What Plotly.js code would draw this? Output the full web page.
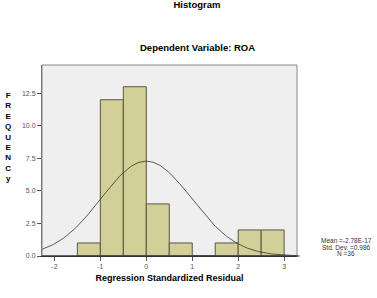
<!DOCTYPE html>
<html>
<head>
<meta charset="utf-8">
<script src="https://cdn.plot.ly/plotly-3.0.1.min.js"></script>
<style>
  html, body { margin: 0; padding: 0; background: #ffffff; }
  #chart { width: 377px; height: 298px; }
</style>
</head>
<body>
<div id="chart"></div>
<script>
// Residual histogram bins (bin width 0.5) and their counts
const binStarts = [-1.5, -1.0, -0.5, 0.0, 0.5, 1.0, 1.5, 2.0, 2.5];
const binWidth = 0.5;
const counts = [1, 12, 13, 4, 1, 0, 1, 2, 2];

// Summary statistics shown beside the plot
const meanLabel = '-2.78E-17';
const meanValue = -2.78e-17;
const stdDev = 0.986;
const nObs = 36;

const xTickVals = [-2, -1, 0, 1, 2, 3];
const yTickVals = [0, 2.5, 5, 7.5, 10, 12.5];
const yTickText = ['0.0', '2.5', '5.0', '7.5', '10.0', '12.5'];

const xRange = [-2.27, 3.28];
const yRange = [0, 14.67];

const binCenters = binStarts.map(s => s + binWidth / 2);

// Normal curve scaled to the histogram: N * width * density
const curveX = [];
const curveY = [];
for (let i = 0; i <= 200; i++) {
  const x = xRange[0] + (xRange[1] - xRange[0]) * i / 200;
  const z = (x - meanValue) / stdDev;
  curveX.push(x);
  curveY.push(nObs * binWidth * Math.exp(-0.5 * z * z) / (stdDev * Math.sqrt(2 * Math.PI)));
}

const font = 'Liberation Sans, Arial, sans-serif';

const data = [
  {
    type: 'bar',
    x: binCenters,
    y: counts,
    width: binWidth,
    marker: { color: '#d3cf98', line: { color: '#5a5640', width: 1 } },
    hoverinfo: 'x+y'
  },
  {
    type: 'scatter',
    mode: 'lines',
    x: curveX,
    y: curveY,
    line: { color: '#333333', width: 0.8 },
    hoverinfo: 'skip'
  }
];

const statLines = ['Mean =' + meanLabel, 'Std. Dev. =' + stdDev, 'N =' + nObs];
const statAnnotations = statLines.map((t, i) => ({
  text: t,
  xref: 'paper', yref: 'paper',
  x: 1, xshift: 49,
  y: 0, yshift: 15.5 - 6.5 * i,
  xanchor: 'center', yanchor: 'middle',
  showarrow: false,
  font: { family: font, size: 6.5, color: '#333333' }
}));

const layout = {
  width: 377,
  height: 298,
  margin: { l: 42, r: 80, t: 65, b: 42 },
  paper_bgcolor: '#ffffff',
  plot_bgcolor: '#efefef',
  showlegend: false,
  bargap: 0,
  font: { family: font, size: 7, color: '#555555' },
  title: {
    text: '<b>Histogram</b>',
    font: { family: font, size: 9.5, color: '#000000' },
    xref: 'container',
    x: 197 / 377, xanchor: 'center',
    y: 1 - 1 / 298, yanchor: 'top'
  },
  xaxis: {
    range: xRange,
    tickvals: xTickVals,
    ticktext: xTickVals.map(String),
    ticks: 'outside',
    ticklen: 4,
    tickcolor: '#555555',
    showgrid: false,
    zeroline: false,
    showline: true,
    linecolor: '#222222',
    linewidth: 1,
    mirror: false,
    tickfont: { family: font, size: 7, color: '#555555' },
    title: {
      text: '<b>Regression Standardized Residual</b>',
      font: { family: font, size: 9, color: '#000000' },
      standoff: 5
    }
  },
  yaxis: {
    range: yRange,
    tickvals: yTickVals,
    ticktext: yTickText,
    ticks: 'outside',
    ticklen: 4,
    tickcolor: '#555555',
    showgrid: false,
    zeroline: false,
    showline: true,
    linecolor: '#666666',
    linewidth: 1,
    tickfont: { family: font, size: 7, color: '#555555' }
  },
  shapes: [
    {
      type: 'rect', xref: 'paper', yref: 'paper',
      x0: 0, x1: 1, y0: 0, y1: 1,
      line: { color: '#888888', width: 1 }
    },
    {
      type: 'line', xref: 'paper', yref: 'paper',
      x0: 0, x1: 1.01, y0: 0, y1: 0,
      line: { color: '#111111', width: 1.2 }
    }
  ],
  annotations: [
    {
      text: '<b>Dependent Variable: ROA</b>',
      xref: 'paper', yref: 'paper',
      x: (197 - 42) / 255, y: 1, yshift: 10,
      xanchor: 'center', yanchor: 'bottom',
      showarrow: false,
      font: { family: font, size: 9.5, color: '#000000' }
    },
    {
      text: '<b>F<br>R<br>E<br>Q<br>U<br>E<br>N<br>C<br>y</b>',
      xref: 'paper', yref: 'paper',
      x: 0, xshift: -34.5,
      y: 0.625,
      xanchor: 'center', yanchor: 'middle',
      showarrow: false,
      align: 'center',
      font: { family: font, size: 8, color: '#000000' }
    }
  ].concat(statAnnotations)
};

Plotly.newPlot('chart', data, layout, { displayModeBar: false, staticPlot: true });
</script>
</body>
</html>
